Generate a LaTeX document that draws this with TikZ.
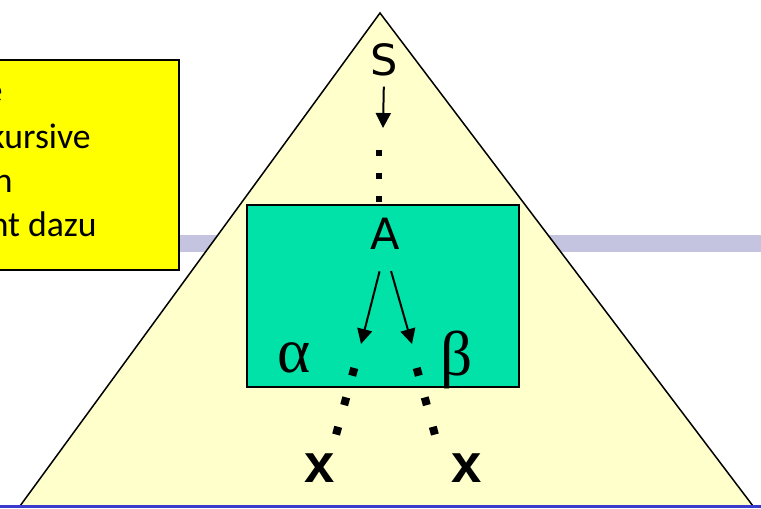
\documentclass[tikz,border=0pt]{standalone}
\usepackage{fontspec}
\setmainfont{Carlito}
\newfontfamily\labelfont{DejaVu Sans}
\newfontfamily\greekfont{Liberation Serif}
\newfontfamily\leaffont{Liberation Sans}
\usetikzlibrary{arrows.meta}
\definecolor{notecolor}{RGB}{255,255,0}
\definecolor{treecolor}{RGB}{255,255,204}
\definecolor{subtreecolor}{RGB}{0,226,168}
\definecolor{bandcolor}{RGB}{196,196,224}
\definecolor{rulecolor}{RGB}{58,58,204}

\begin{document}
\begin{tikzpicture}[x=0.02cm,y=-0.02cm,
    arr/.style={-{Triangle[length=0.3cm,width=0.3cm]},line width=0.04cm},
    dotline/.style={line width=0.16cm,dash pattern=on 0.16cm off 0.45cm},
    sym/.style={inner sep=0,font=\labelfont\fontsize{24.5}{28}\selectfont},
    greek/.style={inner sep=0,font=\greekfont\fontsize{36}{40}\selectfont},
    leaf/.style={inner sep=0,font=\leaffont\bfseries\fontsize{31}{34}\selectfont},
    note/.style={anchor=base east,inner sep=0,font=\fontsize{20.3}{24}\selectfont}]
    \useasboundingbox (0,0) rectangle (761,509);
    \clip (0,0) rectangle (761,509);

    % band behind everything
    \fill[bandcolor] (0,235) rectangle (761,252);

    % yellow note, cut off at the left
    \draw[fill=notecolor,line width=0.045cm] (-10,60) rectangle (179,270);
    \node[note] (noteA) at (3,103) {e};
    \node[note] (noteB) at (91,149) {kursive};
    \node[note] (noteC) at (13,193) {n};
    \node[note] (noteD) at (97,237) {nt dazu};

    % derivation tree
    \draw[fill=treecolor,line width=0.03cm] (380,13) -- (753,506) -- (20,506) -- cycle;

    \node[sym] (S) at (384,60) {S};
    \coordinate (sEnd) at (383,128);
    \draw[arr,shorten <=0.2cm] (S.south) -- (sEnd);
    \coordinate (d0) at (379,150);
    \coordinate (d1) at (379,212);
    \draw[line width=0.13cm,dash pattern=on 0.13cm off 0.33cm] (d0) -- (d1);

    % subtree of A
    \draw[fill=subtreecolor,line width=0.04cm] (247,205) rectangle (519,387);
    \node[sym] (A) at (385,234) {A};
    \coordinate (tipL) at (361,344);
    \coordinate (tipR) at (412,344);
    \draw[arr,shorten <=0.44cm] (A.south) -- (tipL);
    \draw[arr,shorten <=0.44cm] (A.south) -- (tipR);

    \node[greek] (alpha) at (294,358) {α};
    \node[greek] (beta) at (457,360) {β};

    % leaves
    \coordinate (lTop) at (354.3,368);
    \coordinate (lBot) at (335.7,436);
    \coordinate (rTop) at (416.7,368);
    \coordinate (rBot) at (435.3,436);
    \draw[dotline] (lTop) -- (lBot);
    \draw[dotline] (rTop) -- (rBot);
    \node[leaf] (xL) at (320,468) {x};
    \node[leaf] (xR) at (467,468) {x};

    \draw[rulecolor,line width=0.06cm] (0,507) -- (761,507);
\end{tikzpicture}
\end{document}
